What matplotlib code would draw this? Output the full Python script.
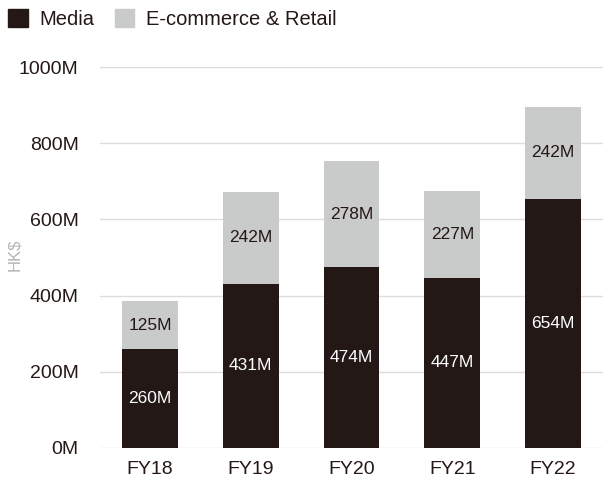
import numpy as np
import matplotlib.pyplot as plt
from matplotlib.patches import Patch

plt.rcParams['font.family'] = ['Liberation Sans', 'DejaVu Sans']

years = ['FY18', 'FY19', 'FY20', 'FY21', 'FY22']
media = [260, 431, 474, 447, 654]
ecom = [125, 242, 278, 227, 242]

dark = '#231815'
light = '#c9caca'

W, H = 603, 482
fig = plt.figure(figsize=(W / 100, H / 100), dpi=100)
ax = fig.add_axes([99.5 / W, (H - 448) / H, 504 / W, 381 / H])

x = np.arange(len(years))
b1 = ax.bar(x, media, width=0.555, color=dark, zorder=2)
b2 = ax.bar(x, ecom, width=0.555, bottom=media, color=light, zorder=2)

for i in range(len(years)):
    ax.text(x[i], media[i] / 2, f'{media[i]}M', ha='center', va='center',
            color='white', fontsize=12.5)
    ax.text(x[i], media[i] + ecom[i] / 2, f'{ecom[i]}M', ha='center', va='center',
            color=dark, fontsize=12.5)

ax.set_xlim(-0.5, 4.5)
ax.set_ylim(0, 1000)
ax.set_yticks(range(0, 1001, 200))
ax.set_yticklabels([f'{v}M' for v in range(0, 1001, 200)])
ax.set_xticks(x)
ax.set_xticklabels(years)
ax.tick_params(length=0, labelsize=14, colors='#231815')
ax.tick_params(axis='y', pad=15)
ax.tick_params(axis='x', pad=9)
ax.grid(axis='y', color='#dcdcdc', linewidth=1, zorder=0)
for s in ax.spines.values():
    s.set_visible(False)

fig.text(15 / W, 1 - 255 / H, 'HK$', rotation=90, ha='center', va='center',
         color='#b5b5b5', fontsize=12)

handles = [Patch(color=dark), Patch(color=light)]
fig.legend(handles, ['Media', 'E-commerce & Retail'], loc='upper left',
           bbox_to_anchor=(-0.016, 1.018), ncol=2, frameon=False, fontsize=14.5,
           handlelength=0.95, handleheight=0.95, handletextpad=0.6,
           columnspacing=1.0, labelcolor=dark)

fig.savefig('out.png', dpi=100)
